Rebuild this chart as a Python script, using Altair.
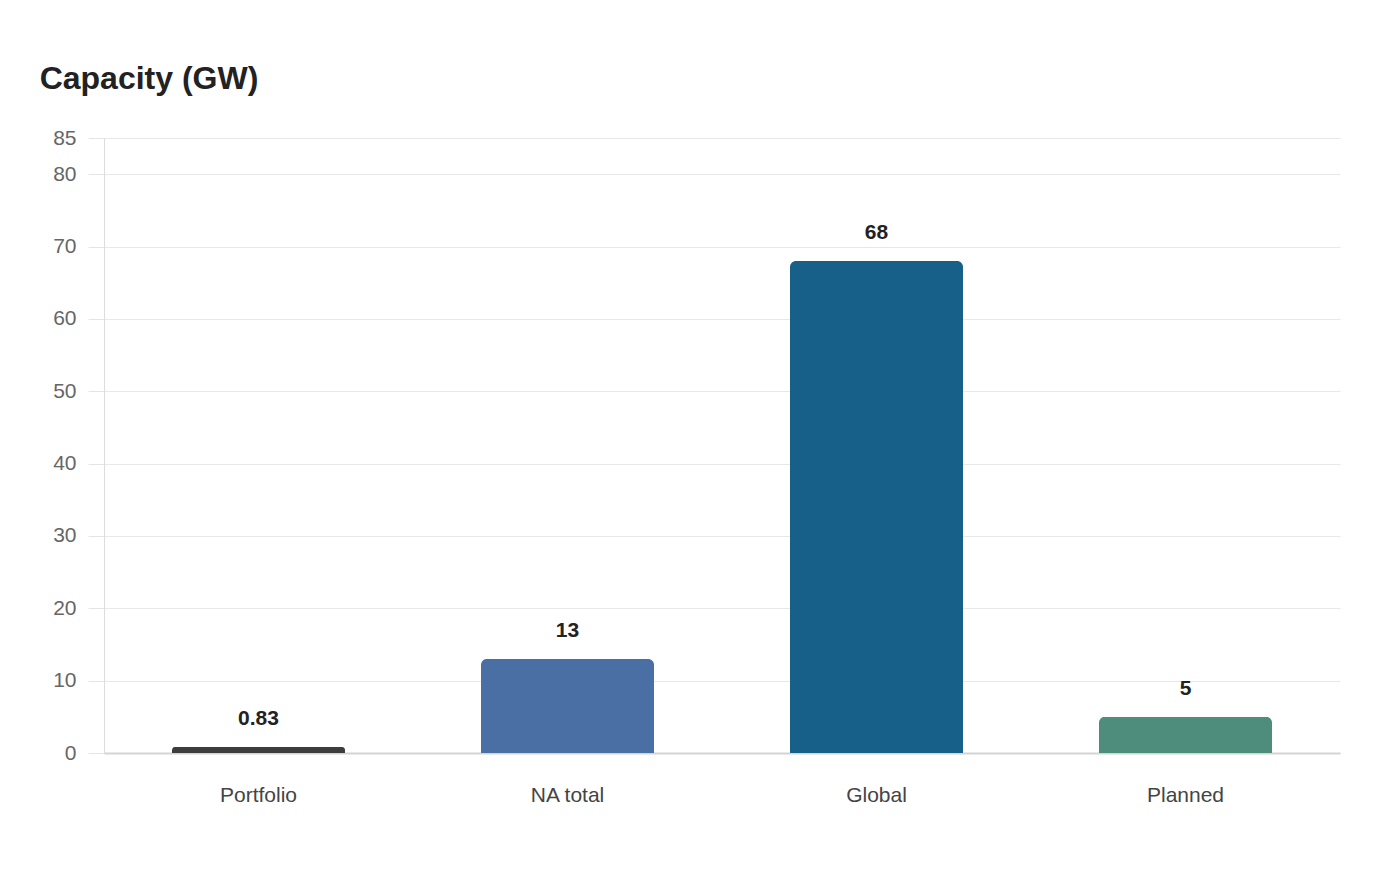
import altair as alt
import pandas as pd

categories = ["Portfolio", "NA total", "Global", "Planned"]
values = [0.83, 13, 68, 5]
labels = ["0.83", "13", "68", "5"]
colors = ["#3d3d3d", "#4a6fa5", "#17608a", "#4e8c7b"]
y_ticks = [0, 10, 20, 30, 40, 50, 60, 70, 80, 85]

df = pd.DataFrame({"cat": categories, "val": values, "label": labels, "color": colors})

x_enc = alt.X("cat:N", sort=categories,
              scale=alt.Scale(paddingInner=0.44, paddingOuter=0.22),
              axis=alt.Axis(title=None, labelAngle=0, labelFontSize=21, labelColor="#444444",
                            labelFont="Liberation Sans", ticks=False, labelPadding=31,
                            domainColor="#d4d4d4", domainWidth=2, grid=False))

bars = alt.Chart(df).mark_bar(cornerRadiusTopLeft=6, cornerRadiusTopRight=6).encode(
    x=x_enc,
    y=alt.Y("val:Q", scale=alt.Scale(domain=[0, 85], nice=False),
            axis=alt.Axis(title=None, values=y_ticks, labelFontSize=21, labelColor="#666666",
                          labelFont="Liberation Sans", tickSize=16, tickColor="#e4e4e4",
                          labelPadding=12, gridColor="#e8e8e8", domainColor="#dcdcdc")),
    color=alt.Color("color:N", scale=None),
)

text = alt.Chart(df).mark_text(fontSize=21, fontWeight="bold", color="#222222",
                                font="Liberation Sans", baseline="middle", dy=-28).encode(
    x=alt.X("cat:N", sort=categories),
    y=alt.Y("val:Q"),
    text="label:N",
)

chart = (bars + text).properties(
    width=1236, height=615,
    background="white",
    autosize=alt.AutoSizeParams(type="none"),
    padding={"left": 96, "top": 130, "right": 40, "bottom": 80},
    title=alt.Title("Capacity (GW)", anchor="start", fontSize=32, fontWeight="bold",
                    color="#222222", font="Liberation Sans", offset=31, dx=-13),
).configure_view(stroke="transparent", strokeWidth=0).configure_axisX(grid=False)

chart.save("out.html", embed_options={"renderer": "svg", "actions": False})
